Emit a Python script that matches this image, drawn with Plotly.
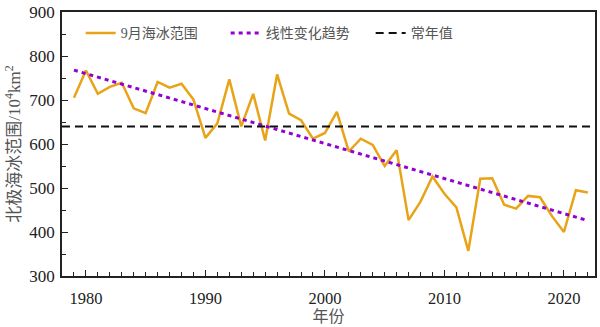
import plotly.graph_objects as go

years = list(range(1979, 2023))
extent = [705, 767, 714, 730, 739, 681, 670, 741, 728, 737, 701, 614, 647, 747, 640, 714, 608,
          758, 669, 654, 612, 625, 673, 583, 612, 598, 550, 586, 427, 469, 526, 487, 456, 357,
          521, 522, 462, 453, 482, 479, 436, 400, 495, 490]
trend_years = [1979, 2022]
trend_vals = [768, 426]
normal_val = 640
normal_years = [1978, 2022.6]

FONT = "Liberation Serif, Times New Roman, Noto Sans CJK SC, serif"
TXT = "#222222"

fig = go.Figure()
fig.add_trace(go.Scatter(x=years, y=extent, mode="lines", name="9月海冰范围",
                         line=dict(color="#E8A317", width=2.5)))
fig.add_trace(go.Scatter(x=trend_years, y=trend_vals, mode="lines", name="线性变化趋势",
                         line=dict(color="#9400D3", width=3, dash="4px,4px")))
fig.add_trace(go.Scatter(x=normal_years, y=[normal_val, normal_val], mode="lines", name="常年值",
                         line=dict(color="#111111", width=2, dash="8px,5px")))

fig.update_layout(
    width=600, height=327,
    margin=dict(l=62, r=3, t=10, b=51),
    paper_bgcolor="white", plot_bgcolor="white",
    font=dict(family=FONT, size=16, color=TXT),
    legend=dict(orientation="h", x=0.035, y=0.98, xanchor="left", yanchor="top",
                bgcolor="rgba(0,0,0,0)", font=dict(size=14, family=FONT, color="#555"),
                entrywidth=100, entrywidthmode="pixels"),
    xaxis=dict(range=[1978, 2022.6], tickmode="array", tickvals=[1980, 1990, 2000, 2010, 2020],
               ticks="inside", ticklen=6, tickcolor="#222", showline=True, linecolor="#222",
               linewidth=1.5, mirror=True, showgrid=False, zeroline=False,
               minor=dict(dtick=1, tick0=1978, ticks="inside", ticklen=4, tickcolor="#222", showgrid=False),
               title=dict(text="年份", font=dict(size=16, color="#555"), standoff=2),
               ticklabelstandoff=6,
               tickfont=dict(size=16.5)),
    yaxis=dict(range=[300, 900], dtick=100, ticks="inside", ticklen=6, tickcolor="#222",
               showline=True, linecolor="#222", linewidth=1.5, mirror=True, showgrid=False,
               zeroline=False,
               minor=dict(dtick=50, ticks="inside", ticklen=4, tickcolor="#222", showgrid=False),
               title=dict(text="北极海冰范围/10<sup>4</sup>km<sup>2</sup>", font=dict(size=17, color="#555"), standoff=4),
               ticklabelstandoff=2,
               tickfont=dict(size=17)),
)

fig.write_html("out.html")
